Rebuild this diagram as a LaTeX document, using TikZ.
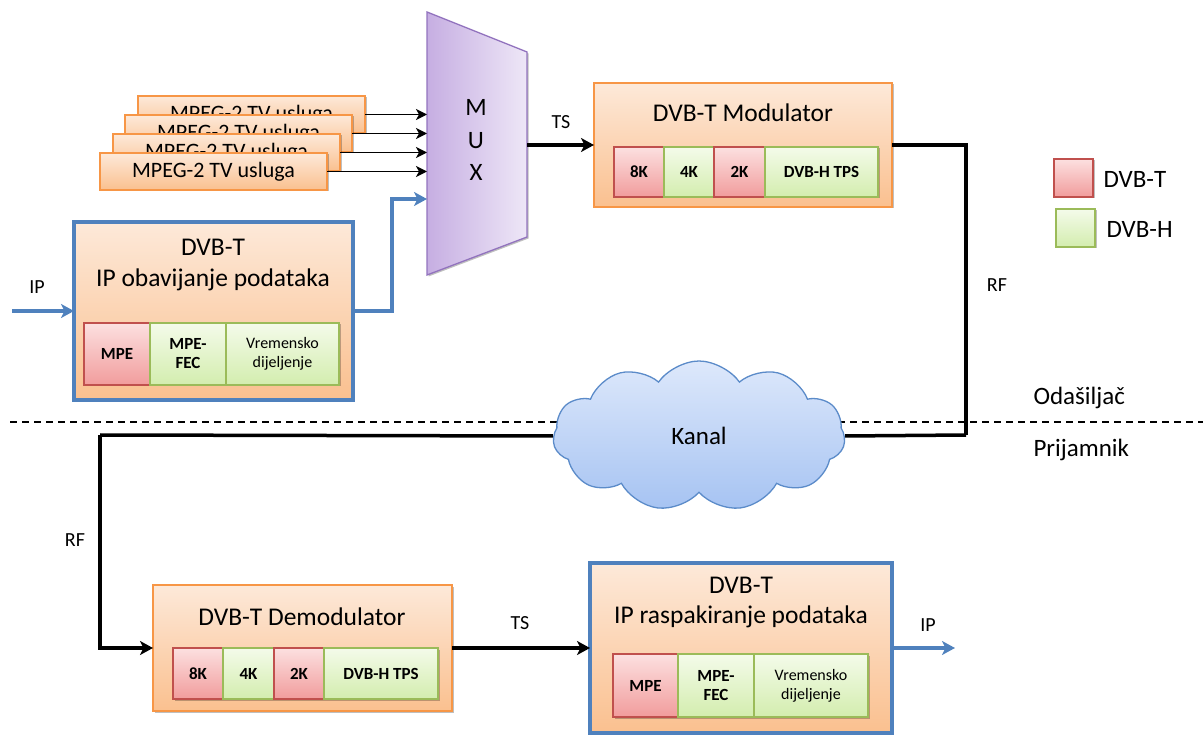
\documentclass[tikz,border=0pt]{standalone}
\usepackage{fontspec}
\setmainfont{Carlito}
\usetikzlibrary{arrows.meta,shapes.symbols,shadows}
\definecolor{orB}{HTML}{F79646}
\definecolor{orT}{HTML}{FDE9D9}
\definecolor{orBot}{HTML}{FAC08F}
\definecolor{rdB}{HTML}{C0504D}
\definecolor{rdT}{HTML}{FCE0E0}
\definecolor{rdBot}{HTML}{F19C9C}
\definecolor{gnB}{HTML}{9BBB59}
\definecolor{gnT}{HTML}{F4FBEA}
\definecolor{gnBot}{HTML}{D3EDAE}
\definecolor{blB}{HTML}{4F81BD}
\definecolor{cMuxB}{HTML}{9273BE}
\definecolor{cMuxL}{HTML}{C6AEE2}
\definecolor{cMuxR}{HTML}{EEE7F7}
\definecolor{clB}{HTML}{5B8BC9}
\definecolor{clT}{HTML}{DDE8FB}
\definecolor{clBot}{HTML}{A6C3F2}
\begin{document}
\begin{tikzpicture}[x=1pt,y=-1pt,
  shd/.style={drop shadow={shadow xshift=1.5pt,shadow yshift=-1.5pt,opacity=0.25,fill=black}},
  base/.style={anchor=north west,inner sep=0pt,outer sep=0pt},
  obox/.style={base,draw=orB,line width=1.2pt,top color=orT,bottom color=orBot,shd},
  bbox/.style={base,draw=blB,line width=3.2pt,top color=orT,bottom color=orBot,shd},
  mbox/.style={base,draw=orB,line width=1.2pt,top color=orT,bottom color=orBot,shd,
     minimum width=227,minimum height=37,font=\fontsize{22}{24}\selectfont},
  rsub/.style={base,draw=rdB,line width=1.2pt,top color=rdT,bottom color=rdBot,shd,
     align=center,font=\fontsize{17}{19}\selectfont\bfseries},
  gsub/.style={base,draw=gnB,line width=1.2pt,top color=gnT,bottom color=gnBot,shd,
     align=center,font=\fontsize{17}{19}\selectfont\bfseries},
  gsubr/.style={gsub,font=\fontsize{16}{19}\selectfont},
  ttl/.style={font=\fontsize{25.5}{28}\selectfont},
  lbl/.style={font=\fontsize{20}{22}\selectfont},
  big/.style={font=\fontsize{25}{28}\selectfont},
  thinarr/.style={line width=1.7pt,-{Stealth[length=11pt,width=11pt,inset=3pt]}},
  thickarr/.style={line width=3.5pt,-{Stealth[length=13pt,width=14pt,inset=3.5pt]}},
  thickln/.style={line width=3.5pt},
  bluearr/.style={draw=blB,line width=3.5pt,-{Stealth[length=13pt,width=14pt,inset=3.5pt]}},
]
\useasboundingbox (0,0) rectangle (1203,735);

% separator
\coordinate (dl) at (10,422);
\coordinate (dr) at (1203,422);
\draw[line width=1.2pt,dash pattern=on 7pt off 5pt] (dl) -- (dr);

% MPEG stack
\node[mbox] (m4) at (138,96) {MPEG-2 TV usluga};
\node[mbox] (m3) at (125,115) {MPEG-2 TV usluga};
\node[mbox] (m2) at (113,134) {MPEG-2 TV usluga};
\node[mbox] (m1) at (100,153) {MPEG-2 TV usluga};

% MUX
\coordinate (muxL) at (427,143);
\coordinate (muxR) at (527,145);
\coordinate (muxB) at (427,199);
\path[draw=cMuxB,line width=1.3pt,left color=cMuxL,right color=cMuxR,shd]
  (427,12) -- (527,52) -- (527,237) -- (427,275) -- cycle;
\node[align=center,font=\fontsize{25}{32.5}\selectfont] (mux) at (476,140) {M\\U\\X};

\draw[thinarr] (m4.east) -- (m4.east -| muxL);
\draw[thinarr] (m3.east) -- (m3.east -| muxL);
\draw[thinarr] (m2.east) -- (m2.east -| muxL);
\draw[thinarr] (m1.east) -- (m1.east -| muxL);

% IP encapsulation box
\node[bbox,minimum width=279,minimum height=178] (ipb) at (74,222) {};
\node[ttl] (ipt1) at (213,247) {DVB-T};
\node[ttl] (ipt2) at (213,280) {IP obavijanje podataka};
\node[rsub,minimum width=66,minimum height=62] (ipa) at (84,323) {MPE};
\node[gsub,minimum width=76,minimum height=62] (ipbb) at (150,323) {MPE-\\FEC};
\node[gsubr,minimum width=113,minimum height=62] (ipc) at (226,323) {Vremensko\\dijeljenje};
\coordinate (ipin) at (12,311);
\draw[bluearr] (ipin) -- (ipb.west);
\node[lbl] (iplbl) at (37,287) {IP};
\draw[bluearr] (ipb.east) -- ++(39,0) |- (muxB);

% Modulator
\node[obox,minimum width=298,minimum height=124] (mod) at (594,83) {};
\node[ttl] (modt) at (743,113) {DVB-T Modulator};
\node[rsub,minimum width=50,minimum height=50] (mo1) at (614,147) {8K};
\node[gsub,minimum width=50,minimum height=50] (mo2) at (664,147) {4K};
\node[rsub,minimum width=51,minimum height=50] (mo3) at (714,147) {2K};
\node[gsub,minimum width=113,minimum height=50] (mo4) at (765,147) {DVB-H TPS};
\draw[thickarr] (muxR) -- (mod.west);
\node[lbl] (tslbl1) at (561,122) {TS};

% Legend
\node[rsub,minimum width=39,minimum height=38] (legr) at (1054,159) {};
\node[gsub,minimum width=39,minimum height=38] (legg) at (1056,209) {};
\node[big,anchor=west] (legrt) at (1100,179) {DVB-T};
\node[big,anchor=west] (leggt) at (1103,229) {DVB-H};

% channel path
\coordinate (cR) at (966,435);
\coordinate (cL) at (100,435);
\draw[thickln] (mod.east) -| (cR);
\node[lbl] (rf1) at (997,285) {RF};
\node[lbl] (rf2) at (75,540) {RF};

\node[big,anchor=west] (tx) at (1030,398) {Odašiljač};
\node[big,anchor=west] (rx) at (1030,450) {Prijamnik};

% cloud
\node[cloud,cloud puffs=11,cloud puff arc=110,aspect=2,draw=clB,line width=1.3pt,
  top color=clT,bottom color=clBot,minimum width=292,minimum height=150,inner sep=0pt,
  big] (cloud) at (699,436) {Kanal};
\draw[thickln] (cR) -- (cloud.east);
\draw[thickln] (cloud.west) -- (cL);

% Demodulator
\node[obox,minimum width=299,minimum height=126] (dem) at (153,585) {};
\node[ttl] (demt) at (302,617) {DVB-T Demodulator};
\node[rsub,minimum width=50,minimum height=51] (de1) at (173,648) {8K};
\node[gsub,minimum width=51,minimum height=51] (de2) at (223,648) {4K};
\node[rsub,minimum width=50,minimum height=51] (de3) at (274,648) {2K};
\node[gsub,minimum width=114,minimum height=51] (de4) at (324,648) {DVB-H TPS};
\draw[thickarr] (cL) |- (dem.west);

% IP decapsulation box
\node[bbox,minimum width=302,minimum height=170] (rb) at (590,563) {};
\node[ttl] (rt1) at (741,585) {DVB-T};
\node[ttl] (rt2) at (741,617) {IP raspakiranje podataka};
\node[rsub,minimum width=65,minimum height=63] (ra) at (613,654) {MPE};
\node[gsub,minimum width=76,minimum height=63] (rbb) at (678,654) {MPE-\\FEC};
\node[gsubr,minimum width=114,minimum height=63] (rc) at (754,654) {Vremensko\\dijeljenje};
\draw[thickarr] (dem.east) -- (rb.west);
\node[lbl] (tslbl2) at (520,623) {TS};
\coordinate (ipout) at (955,648);
\draw[bluearr] (rb.east) -- (ipout);
\node[lbl] (iplbl2) at (928,625) {IP};
\end{tikzpicture}
\end{document}
